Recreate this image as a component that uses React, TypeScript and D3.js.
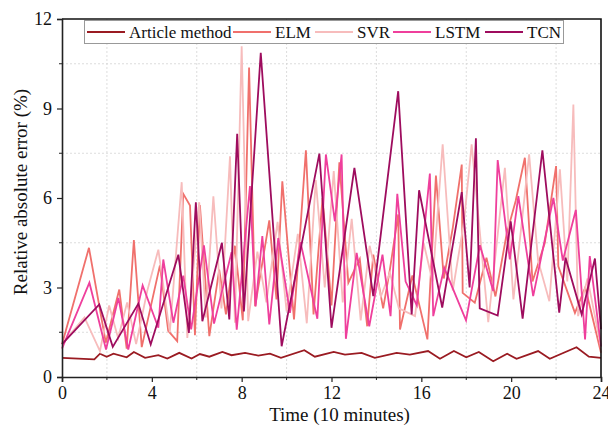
import React, { useEffect, useRef } from "react";
import * as d3 from "d3";

// data: [time, error %]
const articleMethod = [
  [0, 0.64], [1.44, 0.59], [1.69, 0.78], [1.99, 0.68], [2.29, 0.78], [2.88, 0.66], [3.2, 0.84],
  [3.7, 0.64], [4.29, 0.73], [4.69, 0.62], [5.22, 0.81], [5.77, 0.62], [6.14, 0.77], [6.56, 0.68],
  [7.14, 0.84], [7.55, 0.73], [8.15, 0.81], [8.74, 0.72], [9.26, 0.78], [9.75, 0.64], [10.79, 0.9],
  [11.26, 0.68], [12.1, 0.84], [12.6, 0.75], [13.34, 0.81], [13.93, 0.64], [14.9, 0.81], [15.49, 0.75],
  [16.3, 0.87], [16.83, 0.61], [17.45, 0.87], [18.0, 0.66], [18.56, 0.84], [19.2, 0.53], [19.82, 0.78],
  [20.24, 0.61], [21.2, 0.87], [21.72, 0.61], [22.91, 1.0], [23.46, 0.68], [24, 0.64],
];

const elm = [
  [0, 1.1], [1.2, 4.33], [1.95, 1.15], [2.55, 2.93], [2.88, 0.95], [3.2, 4.59], [3.55, 1.0],
  [4.36, 3.74], [4.73, 1.55], [5.13, 1.2], [5.4, 6.14], [5.7, 5.75], [5.92, 1.4], [6.14, 5.76],
  [6.56, 1.37], [7.0, 3.6], [7.3, 2.1], [7.7, 4.4], [8.05, 1.9], [8.33, 10.37], [8.6, 2.37],
  [9.23, 5.25], [9.55, 2.6], [9.81, 6.56], [10.33, 1.93], [10.86, 7.6], [11.2, 2.1], [11.6, 6.0],
  [12.0, 2.4], [12.35, 7.2], [12.75, 3.16], [13.26, 3.96], [13.59, 1.7], [13.86, 4.1], [14.3, 2.3],
  [14.6, 3.6], [14.97, 5.45], [15.05, 1.59], [15.6, 3.4], [16.27, 1.26], [16.65, 6.75], [17.0, 3.3],
  [17.4, 5.0], [17.8, 7.12], [17.84, 2.82], [18.38, 2.49], [18.9, 4.0], [19.3, 2.7], [19.8, 4.8],
  [20.2, 5.9], [20.61, 7.35], [20.95, 3.2], [21.5, 4.5], [22.0, 7.07], [22.1, 3.71], [22.84, 2.15],
  [23.3, 3.0], [24, 0.81],
];

const svr = [
  [0, 1.1], [1.0, 2.0], [1.69, 0.87], [2.1, 2.4], [2.5, 1.3], [2.9, 2.5], [3.3, 1.1], [3.8, 2.9],
  [4.29, 4.27], [4.8, 1.5], [5.33, 6.53], [5.58, 1.31], [6.11, 5.86], [6.4, 2.0], [6.74, 6.06],
  [7.1, 2.3], [7.48, 7.4], [7.7, 1.82], [8.0, 11.09], [8.29, 1.87], [8.7, 4.2], [9.1, 2.5],
  [9.6, 5.2], [10.0, 2.2], [10.5, 4.8], [10.9, 1.8], [11.3, 6.6], [11.7, 3.0], [12.1, 6.9],
  [12.5, 2.5], [12.9, 5.3], [13.3, 1.9], [13.7, 4.4], [14.2, 2.7], [14.6, 3.5], [15.0, 2.3],
  [15.72, 2.04], [16.1, 4.5], [16.5, 3.2], [16.95, 7.8], [17.4, 2.9], [17.9, 5.2], [18.24, 7.8],
  [18.98, 1.84], [19.72, 7.01], [20.1, 2.6], [20.8, 7.46], [21.2, 3.9], [21.7, 2.54], [22.17, 6.96],
  [22.5, 3.2], [22.77, 9.13], [22.98, 2.04], [23.4, 3.3], [24, 1.0],
];

const lstm = [
  [0, 0.95], [1.22, 3.16], [1.96, 0.92], [2.51, 2.65], [2.95, 0.92], [3.59, 3.07], [4.29, 1.65],
  [4.51, 3.94], [4.96, 1.82], [5.4, 3.4], [5.75, 1.6], [6.32, 4.41], [6.77, 1.79], [7.55, 4.18],
  [7.78, 1.59], [8.37, 6.4], [8.62, 2.37], [8.92, 4.72], [9.23, 1.76], [9.63, 4.66], [10.15, 2.15],
  [10.62, 4.52], [11.37, 1.95], [11.75, 7.46], [12.15, 5.22], [12.45, 7.46], [12.64, 1.28],
  [13.12, 4.16], [13.68, 1.7], [14.27, 4.1], [14.63, 2.04], [14.93, 6.14], [15.3, 3.2], [15.8, 2.4],
  [16.38, 6.82], [16.53, 2.04], [17.02, 3.66], [17.99, 1.9], [18.61, 4.42], [19.2, 2.88],
  [19.4, 7.27], [19.94, 3.94], [20.32, 6.06], [20.98, 2.71], [21.88, 6.0], [22.3, 3.9],
  [22.88, 5.6], [23.29, 1.26], [23.5, 4.05], [24, 1.03],
];

const tcn = [
  [0, 1.1], [1.66, 2.43], [2.26, 1.01], [3.4, 2.46], [3.95, 1.09], [5.18, 4.1], [5.65, 1.48],
  [5.96, 5.86], [6.25, 1.87], [7.12, 4.5], [7.45, 1.93], [7.8, 8.15], [8.1, 2.2], [8.85, 10.87],
  [9.78, 1.03], [11.46, 7.49], [12.0, 1.65], [13.02, 7.01], [13.86, 2.71], [14.97, 9.58],
  [15.57, 2.1], [15.9, 6.26], [16.93, 2.33], [17.8, 6.2], [18.15, 3.0], [18.43, 8.0], [18.6, 2.3],
  [19.4, 2.06], [19.98, 5.22], [20.51, 1.96], [21.39, 7.6], [22.14, 2.16], [22.42, 4.0],
  [23.14, 2.1], [23.73, 3.97], [24, 1.6],
];

const seriesNames = ["Article method", "ELM", "SVR", "LSTM", "TCN"];
const seriesData = [articleMethod, elm, svr, lstm, tcn];
const seriesColors = ["#9a1b22", "#f0706c", "#f7bcbc", "#ef3f9c", "#9e0c5e"];

const xTicks = [0, 4, 8, 12, 16, 20, 24];
const yTicks = [0, 3, 6, 9, 12];

const width = 608;
const height = 425;
const margin = { top: 19, right: 7, bottom: 48, left: 62 };

const App = () => {
  const ref = useRef<SVGSVGElement>(null);

  useEffect(() => {
    const svg = d3.select(ref.current);
    svg.selectAll("*").remove();
    const font = "'Liberation Serif', 'Times New Roman', serif";

    const x = d3.scaleLinear().domain([0, 24]).range([margin.left, width - margin.right]);
    const y = d3.scaleLinear().domain([0, 12]).range([height - margin.bottom, margin.top]);

    // dotted grid at the minor ticks
    const xMinor = d3.range(2, 24, 4);
    const yMinor = d3.range(1.5, 12, 3);
    const grid = svg.append("g");
    grid
      .selectAll(".gx")
      .data(xMinor)
      .enter()
      .append("line")
      .attr("x1", (d) => x(d))
      .attr("x2", (d) => x(d))
      .attr("y1", y(0))
      .attr("y2", y(12))
      .attr("stroke", "#d4d4d4")
      .attr("stroke-width", 0.8)
      .attr("stroke-dasharray", "2,2");
    grid
      .selectAll(".gy")
      .data(yMinor)
      .enter()
      .append("line")
      .attr("x1", x(0))
      .attr("x2", x(24))
      .attr("y1", (d) => y(d))
      .attr("y2", (d) => y(d))
      .attr("stroke", "#d4d4d4")
      .attr("stroke-width", 0.8)
      .attr("stroke-dasharray", "2,2");

    // lines
    const line = d3
      .line<number[]>()
      .x((d) => x(d[0]))
      .y((d) => y(d[1]));
    svg
      .append("g")
      .selectAll("path")
      .data(seriesData)
      .enter()
      .append("path")
      .attr("fill", "none")
      .attr("stroke", (d, i) => seriesColors[i])
      .attr("stroke-width", 1.8)
      .attr("d", (d) => line(d));

    // frame top / right
    svg
      .append("path")
      .attr("d", `M${x(0)},${y(12)}H${x(24)}V${y(0)}`)
      .attr("fill", "none")
      .attr("stroke", "#111")
      .attr("stroke-width", 1.6);

    // axes
    const xAxis = svg
      .append("g")
      .attr("transform", `translate(0,${y(0)})`)
      .call(d3.axisBottom(x).tickValues(xTicks).tickSize(5).tickPadding(4).tickFormat(d3.format("d")));
    xAxis
      .selectAll(".minor")
      .data(xMinor)
      .enter()
      .append("line")
      .attr("x1", (d) => x(d))
      .attr("x2", (d) => x(d))
      .attr("y1", 0)
      .attr("y2", 3)
      .attr("stroke", "#222");

    const yAxis = svg
      .append("g")
      .attr("transform", `translate(${x(0)},0)`)
      .call(d3.axisLeft(y).tickValues(yTicks).tickSize(5).tickPadding(5).tickFormat(d3.format("d")));
    yAxis
      .selectAll(".minor")
      .data(yMinor)
      .enter()
      .append("line")
      .attr("x1", 0)
      .attr("x2", -3)
      .attr("y1", (d) => y(d))
      .attr("y2", (d) => y(d))
      .attr("stroke", "#222");

    [xAxis, yAxis].forEach((a) => {
      a.select(".domain").attr("stroke", "#222").attr("stroke-width", 1.6);
      a.selectAll(".tick line").attr("stroke", "#222").attr("stroke-width", 1.2);
      a.selectAll(".tick text")
        .attr("fill", "#111")
        .style("font-family", font)
        .style("font-size", "18px");
    });

    svg
      .append("text")
      .attr("x", (x(0) + x(24)) / 2 + 8)
      .attr("y", 421)
      .attr("text-anchor", "middle")
      .style("font-family", font)
      .style("font-size", "19px")
      .attr("fill", "#111")
      .text("Time (10 minutes)");

    svg
      .append("text")
      .attr("transform", `translate(27,${(y(0) + y(12)) / 2 - 6}) rotate(-90)`)
      .attr("text-anchor", "middle")
      .style("font-family", font)
      .style("font-size", "19px")
      .attr("fill", "#111")
      .text("Relative absolute error (%)");

    // legend
    const legend = svg.append("g").attr("class", "legend");
    legend
      .append("rect")
      .attr("x", 84.5)
      .attr("y", 20.5)
      .attr("width", 479)
      .attr("height", 23)
      .attr("fill", "#fff")
      .attr("stroke", "#999")
      .attr("stroke-width", 1);
    const itemX = [87, 233, 315, 393, 485];
    const items = legend
      .selectAll(".item")
      .data(seriesNames)
      .enter()
      .append("g")
      .attr("transform", (d, i) => `translate(${itemX[i]},32)`);
    items
      .append("line")
      .attr("x1", 0)
      .attr("x2", 38)
      .attr("stroke", (d, i) => seriesColors[i])
      .attr("stroke-width", 2);
    items
      .append("text")
      .attr("x", 42)
      .attr("dy", "0.35em")
      .style("font-family", font)
      .style("font-size", "17px")
      .attr("fill", "#111")
      .text((d) => d);
  }, []);

  return (
    <svg
      ref={ref}
      width={width}
      height={height}
      style={{ position: "absolute", left: 0, top: 0, background: "#fff" }}
    ></svg>
  );
};

export default App;
